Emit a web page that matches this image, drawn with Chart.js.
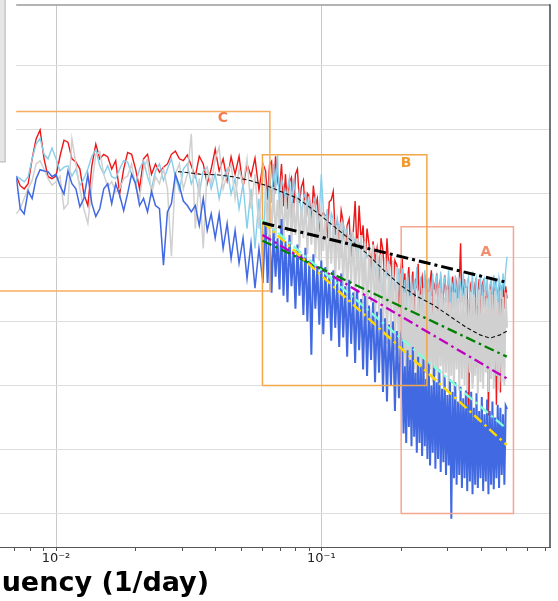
<!DOCTYPE html>
<html><head><meta charset="utf-8">
<script src="https://cdn.jsdelivr.net/npm/chart.js@4"></script>
<style>
html,body{margin:0;padding:0;width:558px;height:601px;overflow:hidden;background:#fff;}
#wrap{position:absolute;left:-467px;top:0;width:1025px;height:601px;}
</style></head><body>
<div id="wrap"><canvas id="c" width="1025" height="601"></canvas></div>
<script>
// ---------- data (log10 of frequency in 1/day, log10 of power) ----------
const logFreq = [
-2.150,-2.135,-2.120,-2.105,-2.090,-2.075,-2.060,-2.045,-2.030,-2.015,-2.000,-1.985,-1.970,-1.955,-1.940,-1.925,-1.910,-1.895,-1.880,-1.865,-1.850,-1.835,-1.820,-1.805,-1.790,-1.775,-1.760,-1.745,-1.730,-1.715,-1.700,-1.685,-1.670,-1.655,-1.640,-1.625,-1.610,-1.595,-1.580,-1.565,-1.550,-1.535,-1.520,-1.505,-1.490,-1.475,-1.460,-1.445,-1.430,-1.415,-1.400,-1.385,-1.370,-1.355,-1.340,-1.325,-1.310,-1.295,-1.280,-1.265,-1.250,-1.235,-1.220,
-1.2100,-1.2025,-1.1950,-1.1875,-1.1800,-1.1725,-1.1650,-1.1575,-1.1500,-1.1425,
-1.1350,-1.1275,-1.1200,-1.1125,-1.1050,-1.0975,-1.0900,-1.0825,-1.0750,-1.0675,
-1.0600,-1.0525,-1.0450,-1.0375,-1.0300,-1.0225,-1.0150,-1.0075,-1.0000,-0.9925,
-0.9850,-0.9775,-0.9700,-0.9625,-0.9550,-0.9475,-0.9400,-0.9325,-0.9250,-0.9175,
-0.9100,-0.9025,-0.8950,-0.8875,-0.8800,-0.8725,-0.8650,-0.8575,-0.8500,-0.8425,
-0.8350,-0.8275,-0.8200,-0.8125,-0.8050,-0.7975,-0.7900,-0.7825,-0.7750,-0.7675,
-0.7600,-0.7525,-0.7450,-0.7375,-0.7300,-0.7225,-0.7150,-0.7075,-0.7000,
-0.695,-0.690,-0.685,-0.680,-0.675,-0.670,-0.665,-0.660,-0.655,-0.650,
-0.645,-0.640,-0.635,-0.630,-0.625,-0.620,-0.615,-0.610,-0.605,-0.600,
-0.595,-0.590,-0.585,-0.580,-0.575,-0.570,-0.565,-0.560,-0.555,-0.550,
-0.545,-0.540,-0.535,-0.530,-0.525,-0.520,-0.515,-0.510,-0.505,-0.500,
-0.495,-0.490,-0.485,-0.480,-0.475,-0.470,-0.465,-0.460,-0.455,-0.450,
-0.445,-0.440,-0.435,-0.430,-0.425,-0.420,-0.415,-0.410,-0.405,-0.400,
-0.395,-0.390,-0.385,-0.380,-0.375,-0.370,-0.365,-0.360,-0.355,-0.350,
-0.345,-0.340,-0.335,-0.330,-0.325,-0.320,-0.315,-0.310,-0.305,-0.300];

const redLog = [
5.27,5.12,5.07,5.15,5.54,5.85,5.99,5.54,5.26,5.23,5.27,5.58,5.83,5.80,5.54,5.49,5.38,4.99,4.81,5.43,5.77,5.54,5.61,5.57,5.38,5.51,4.99,5.38,5.64,5.61,5.38,5.07,5.54,5.61,5.30,5.46,5.33,5.41,5.46,5.61,5.66,5.54,5.51,5.60,5.43,5.26,5.58,5.46,5.15,5.38,5.69,5.35,5.54,5.20,5.57,5.30,5.58,5.10,5.46,5.27,5.55,5.05,5.46,
5.35,4.90,5.45,5.50,4.95,5.58,5.20,5.05,5.46,4.80,
5.30,4.75,5.18,5.25,4.70,5.30,5.38,4.85,5.10,5.20,
4.60,5.00,4.95,4.50,5.12,4.80,4.92,4.40,4.65,4.70,
4.65,4.30,4.87,4.90,5.03,4.35,4.56,4.20,4.73,4.55,
4.10,4.50,4.60,4.00,4.37,4.88,4.05,4.81,4.25,4.50,
3.90,4.45,4.20,3.70,4.25,3.95,4.14,3.60,4.30,4.10,
3.50,4.30,3.80,4.03,3.30,3.95,3.88,3.20,3.85,
3.98,3.40,3.75,3.00,3.67,3.85,3.20,3.60,3.78,3.10,
3.67,3.52,3.90,3.05,3.60,3.70,3.30,2.20,3.65,3.55,
3.20,3.62,3.80,3.00,3.58,3.49,3.75,3.15,3.60,3.67,
3.10,3.44,3.72,3.30,3.55,3.62,2.90,3.52,3.70,3.25,
3.48,3.60,3.05,3.58,4.22,3.30,3.50,3.66,3.10,3.55,
0.76,3.45,3.62,2.04,3.50,3.60,2.28,3.40,3.66,3.00,
3.55,3.62,3.20,3.48,3.58,1.53,3.50,3.64,3.10,3.52,
3.60,1.70,3.45,3.58,1.89,3.50,3.62,3.20,3.55,3.36];

const skyLog = [
5.27,5.23,5.18,5.26,5.54,5.77,5.86,5.61,5.54,5.71,5.54,5.35,5.41,5.43,5.27,5.38,5.12,5.23,5.38,5.58,5.68,5.43,5.30,5.43,5.26,5.23,5.38,5.51,5.49,5.30,5.15,5.38,5.51,5.26,5.07,5.35,5.46,5.20,5.38,5.54,5.26,5.04,5.38,5.46,5.15,5.30,4.99,5.35,5.41,5.07,5.30,4.92,5.23,5.38,4.99,5.23,4.76,5.15,4.45,5.07,4.14,4.92,3.83,
5.15,4.60,5.30,4.85,5.46,5.00,5.61,4.70,5.23,5.10,
4.90,5.07,5.25,4.60,5.23,5.00,4.80,5.07,4.55,4.92,
5.00,4.70,4.92,4.45,4.84,4.95,4.30,4.69,5.30,4.75,
4.50,4.76,4.20,4.69,4.60,4.10,4.61,4.45,4.00,4.53,
4.35,4.45,3.90,4.37,4.20,4.30,3.80,4.22,4.10,3.70,
4.14,4.00,4.06,3.60,3.99,3.85,3.50,3.91,3.80,3.40,
3.83,3.70,3.95,3.30,3.75,3.60,3.20,3.83,3.55,
3.83,3.10,3.65,2.90,3.75,3.40,3.20,3.72,2.95,3.60,
3.50,3.85,3.00,3.55,3.70,3.15,3.45,3.80,2.90,3.62,
3.66,3.20,3.49,3.75,3.05,3.58,3.70,3.25,3.44,3.78,
3.00,3.60,3.68,3.30,3.52,3.80,3.10,3.64,3.55,3.20,
3.72,3.45,3.05,3.66,3.58,3.30,3.75,3.50,3.15,3.62,
3.70,3.35,3.48,3.78,3.05,3.60,3.68,3.25,3.52,3.74,
3.10,3.58,3.66,3.40,3.70,3.20,3.55,3.64,3.30,3.72,
3.48,3.60,3.15,3.68,3.56,3.35,3.75,3.50,3.80,4.01];

const grayLog = [
4.68,4.76,4.92,5.07,5.20,5.46,5.51,5.38,5.23,5.13,5.18,5.27,4.76,4.84,5.85,5.46,5.07,4.76,4.53,5.12,5.61,5.65,5.30,5.10,5.18,5.02,5.07,5.23,5.27,5.46,5.10,4.92,5.38,5.54,4.99,5.26,5.15,5.38,5.07,4.02,5.30,5.46,5.07,5.30,5.93,4.45,5.23,4.14,5.38,5.15,5.54,5.72,5.07,5.30,5.46,4.92,5.38,5.15,5.54,4.76,5.30,4.45,5.46,
5.05,4.35,4.95,4.45,5.10,4.30,4.90,4.50,5.00,4.25,
4.95,4.40,5.05,4.20,4.85,4.35,4.95,4.15,4.80,4.30,
4.90,4.05,4.75,4.20,4.85,4.00,4.70,3.95,4.80,4.10,
4.65,3.70,4.55,3.90,4.60,3.65,4.50,3.80,4.55,3.55,
4.45,3.40,4.35,3.60,4.40,3.30,4.30,3.50,4.35,3.20,
4.25,3.00,4.15,3.30,4.20,2.95,4.10,3.10,4.05,2.80,
4.00,2.65,3.90,2.90,3.95,2.55,3.85,2.40,3.75,
3.55,2.30,3.45,2.15,3.52,2.35,3.40,2.10,3.50,2.25,
3.38,2.05,3.48,2.30,3.42,2.00,3.52,2.20,3.35,1.98,
3.46,2.25,3.40,2.05,3.50,2.15,3.36,1.95,3.52,2.30,
3.44,2.00,3.38,2.20,3.50,1.95,3.30,2.15,3.46,1.92,
3.45,2.25,3.36,1.92,3.48,2.10,3.40,2.00,3.52,1.90,
3.35,2.20,3.46,1.95,3.42,2.15,3.38,1.88,3.50,2.05,
3.40,1.95,3.46,2.20,3.36,1.90,3.50,2.10,3.42,1.95,
3.48,2.15,3.30,1.92,3.48,2.05,3.38,2.00,3.45,2.90];

const blueLog = [
5.27,4.76,4.68,5.04,4.92,5.23,5.37,5.35,5.34,5.26,5.30,5.12,4.99,5.35,5.15,5.07,4.79,4.92,5.29,4.84,4.64,4.76,5.07,5.15,4.84,5.15,4.97,4.73,5.00,5.30,5.15,4.81,4.92,4.71,5.03,4.81,4.76,3.88,4.71,4.84,5.30,5.12,4.88,4.81,4.71,4.81,4.50,4.92,4.42,4.68,4.30,4.68,4.14,4.53,3.98,4.42,3.91,4.30,3.67,4.22,3.52,4.14,3.60,
4.50,3.60,4.35,3.45,4.45,3.70,4.30,3.50,4.60,3.40,
4.25,3.30,4.35,3.55,4.10,3.20,4.20,3.40,4.05,3.10,
4.15,3.00,3.95,2.48,4.05,3.20,3.85,2.95,3.95,2.80,
3.85,3.05,3.70,2.70,3.80,2.90,3.65,2.60,3.75,2.75,
3.55,2.45,3.65,2.65,3.45,2.35,3.50,2.55,3.35,2.25,
3.40,2.15,3.25,2.40,3.30,2.05,3.15,2.20,3.20,1.90,
3.05,1.75,2.95,2.00,3.00,1.60,2.85,1.80,2.75,
2.66,1.25,2.30,1.10,2.55,1.35,2.40,1.05,2.60,1.20,
2.20,0.95,2.45,1.10,2.30,0.90,2.42,1.05,2.10,0.85,
2.36,0.75,2.00,0.95,2.30,0.70,2.05,0.85,2.25,0.65,
1.95,0.80,2.15,0.60,1.85,0.75,2.10,-0.08,1.90,0.55,
2.05,0.45,1.75,0.60,1.98,0.40,1.80,0.55,1.92,0.35,
1.70,0.50,1.90,0.30,1.65,0.45,1.88,0.40,1.60,0.55,
1.82,0.35,1.55,0.50,1.78,0.30,1.60,0.45,1.75,0.38,
1.50,0.55,1.70,0.40,1.65,0.60,1.55,0.45,1.68,1.63];

// smooth model (dashed curve)
const modelFreq = [0.02884,0.03199,0.03490,0.04045,0.04648,0.05384,0.06241,0.07427,0.08171,0.09634,0.1207,0.1487,0.1739,0.1979,0.2295,0.2636,0.3056,0.3540,0.3964,0.4324,0.4716,0.5012];
const modelLog  = [5.34,5.32,5.30,5.29,5.26,5.20,5.12,4.99,4.92,4.70,4.37,4.06,3.78,3.57,3.39,3.26,3.08,2.90,2.79,2.74,2.79,2.85];

// power-law fits, from f=0.06 to f=0.5
const fitFreq = [0.06, 0.5];
const fitBlackLog   = [4.54, 3.61];
const fitGreenLog   = [4.26, 2.45];
const fitMagentaLog = [4.35, 2.11];
const fitAquaLog    = [4.59, 1.32];
const fitGoldLog    = [4.56, 1.07];

// frequency ranges (boxes): [fLow, fHigh, powerLow, powerHigh]
const boxA = [0.2, 0.53, 1, 3e4];
const boxB = [0.06, 0.25, 100, 4e5];
const boxC = [0.001, 0.064, 3e3, 1.9e6];
const boxLabels = ['A', 'B', 'C'];
const boxLabelFreq = [0.4176, 0.2085, 0.0426];
const boxLabelPower = [1.19e4, 2.98e5, 1.49e6];

// axes
const xMin = 1.798e-4, xMax = 0.7278;
const yMin = 0.3388, yMax = 8.75e7;
const xTickValues = [2e-4,3e-4,4e-4,5e-4,6e-4,7e-4,8e-4,9e-4,1e-3,2e-3,3e-3,4e-3,5e-3,6e-3,7e-3,8e-3,9e-3,1e-2,2e-2,3e-2,4e-2,5e-2,6e-2,7e-2,8e-2,9e-2,1e-1,2e-1,3e-1,4e-1,5e-1,6e-1,7e-1];
const xMajorValues = [1e-3, 1e-2, 1e-1];
const xMajorLabels = ['10\u207B\u00B3', '10\u207B\u00B2', '10\u207B\u00B9'];
const yTickValues = [1,10,100,1e3,1e4,1e5,1e6,1e7];
const xTitle = 'Frequency (1/day)';

// overlaid legend panel (edge frequency, bottom power)
const panelEdge = [Math.pow(10, logFreq[0]), 2.3e4];
const legendEdge = [0.00643, 3.1e5];
const denseFrom = 0.0615; // frequency above which the spectra are densely sampled

// ---------- build ----------
const series = (lf, lv) => lf.map((f, i) => ({x: Math.pow(10, f), y: Math.pow(10, lv[i])}));
const line = (fr, lv) => fr.map((f, i) => ({x: f, y: Math.pow(10, lv[i])}));
const rect = b => [{x:b[0],y:b[2]},{x:b[0],y:b[3]},{x:b[1],y:b[3]},{x:b[1],y:b[2]},{x:b[0],y:b[2]}];
const denseWidth = (thin, thick) => ({borderWidth: c => c.p0.parsed.x > denseFrom ? thick : thin});

const base = {showLine:true, pointRadius:0, fill:false, tension:0};
const datasets = [
  {...base, data: series(logFreq, redLog), borderColor:'#ee1616', borderWidth:1.4, order:10},
  {...base, data: series(logFreq, skyLog), borderColor:'#87ceeb', borderWidth:1.4, order:9},
  {...base, data: series(logFreq, grayLog), borderColor:'#d0d0d0', borderWidth:1.5, segment: denseWidth(1.5, 2.0), order:8},
  {...base, data: series(logFreq, blueLog), borderColor:'#4169e1', borderWidth:1.5, segment: denseWidth(1.5, 2.0), order:7},
  {...base, data: rect(boxC), borderColor:'#f6ad5e', borderWidth:1.5, order:5},
  {...base, data: rect(boxB), borderColor:'#f2a64a', borderWidth:1.5, order:5},
  {...base, data: rect(boxA), borderColor:'#f4a690', borderWidth:1.5, order:5},
  {...base, data: line(modelFreq, modelLog), borderColor:'#111', borderWidth:1.1, borderDash:[4,2.5], order:4},
  {...base, data: line(fitFreq, fitGreenLog), borderColor:'#008000', borderWidth:2.3, borderDash:[10,4,2.5,4], order:3},
  {...base, data: line(fitFreq, fitMagentaLog), borderColor:'#bf00bf', borderWidth:2.3, borderDash:[10,4,2.5,4], order:3},
  {...base, data: line(fitFreq, fitAquaLog), borderColor:'#7fffd4', borderWidth:2.3, borderDash:[10,4,2.5,4], order:2},
  {...base, data: line(fitFreq, fitGoldLog), borderColor:'#ffd700', borderWidth:2.5, borderDash:[10,4,2.5,4], order:2},
  {...base, data: line(fitFreq, fitBlackLog), borderColor:'#000', borderWidth:3, borderDash:[12,4,3,4], order:1},
];

const decor = {
  id: 'decor',
  afterDatasetsDraw(chart) {
    const {ctx, scales:{x, y}} = chart;
    const colors = ['#f58c6c', '#f29a2e', '#f37a4e'];
    ctx.save();
    ctx.font = 'bold 14px "DejaVu Sans"';
    ctx.textAlign = 'center'; ctx.textBaseline = 'middle';
    boxLabels.forEach((t, i) => {
      ctx.fillStyle = colors[i];
      ctx.fillText(t, x.getPixelForValue(boxLabelFreq[i]), y.getPixelForValue(boxLabelPower[i]));
    });
    ctx.restore();
  },
  afterDraw(chart) {
    const {ctx, chartArea:a, scales:{x, y}} = chart;
    ctx.save();
    ctx.strokeStyle = '#9a9a9a'; ctx.lineWidth = 1.5;
    ctx.beginPath(); ctx.moveTo(a.left, a.top); ctx.lineTo(a.right, a.top); ctx.stroke();
    ctx.strokeStyle = '#444'; ctx.lineWidth = 1.5;
    ctx.beginPath(); ctx.moveTo(a.right, a.top - 0.75); ctx.lineTo(a.right, a.bottom); ctx.stroke();
    const px = x.getPixelForValue(panelEdge[0]), py = y.getPixelForValue(panelEdge[1]);
    ctx.fillStyle = '#fff'; ctx.fillRect(a.left, 0, px - a.left, py);
    const lx = x.getPixelForValue(legendEdge[0]), ly = y.getPixelForValue(legendEdge[1]);
    ctx.fillStyle = '#e6e6e6'; ctx.fillRect(a.left, 0, lx - a.left, ly);
    ctx.strokeStyle = '#bdbdbd'; ctx.lineWidth = 1.2;
    ctx.beginPath(); ctx.moveTo(lx, 0); ctx.lineTo(lx, ly); ctx.lineTo(a.left, ly); ctx.stroke();
    ctx.restore();
  }
};

new Chart(document.getElementById('c'), {
  type: 'scatter',
  data: {datasets},
  options: {
    responsive: false, animation: false, devicePixelRatio: 1,
    layout: {padding: {left:0, right:8, top:5, bottom:0}, autoPadding: false},
    plugins: {legend: {display:false}, tooltip: {enabled:false}},
    scales: {
      x: {
        type: 'logarithmic', position: 'bottom', min: xMin, max: xMax,
        afterBuildTicks: s => { s.ticks = xTickValues.map(v => ({value: v})); },
        afterFit: s => { s.height = 54; },
        ticks: {autoSkip:false, maxRotation:0, padding:0, color:'#222',
          font: {family:'DejaVu Sans', size:13},
          callback: v => { const i = xMajorValues.indexOf(v); return i >= 0 ? xMajorLabels[i] : ''; }},
        grid: {color: c => (c.tick && xMajorValues.includes(c.tick.value)) ? '#c9c9c9' : 'rgba(0,0,0,0)',
          tickColor:'#555', tickLength:4, lineWidth:1},
        border: {color:'#555', width:1},
        title: {display:true, text:xTitle, color:'#000',
          font:{family:'DejaVu Sans', size:27, weight:'bold'}, padding:{top:0, bottom:1}}
      },
      y: {
        type: 'logarithmic', min: yMin, max: yMax,
        afterBuildTicks: s => { s.ticks = yTickValues.map(v => ({value: v})); },
        afterFit: s => { s.width = 60; },
        ticks: {display:false},
        grid: {color:'#dddddd', lineWidth:1, drawTicks:false},
        border: {display:false}
      }
    }
  },
  plugins: [decor]
});
</script>
</body></html>
